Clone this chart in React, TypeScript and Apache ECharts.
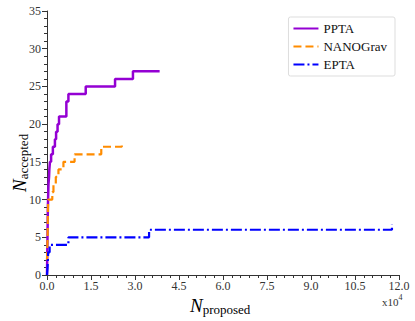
import React, { useEffect, useRef } from "react";
import * as echarts from "echarts";

// x values in units of 10^4 proposals
const pptaX = [0, 0.01, 0.02, 0.03, 0.05, 0.07, 0.08, 0.1, 0.14, 0.2, 0.27, 0.31, 0.36, 0.41, 0.66, 0.73, 1.32, 2.32, 2.93, 3.84];
const pptaY = [0, 3, 6, 9, 12, 13, 14, 15, 16, 17, 18, 19, 20, 21, 23, 24, 25, 26, 27, 27];

const nanoX = [0, 0.02, 0.03, 0.04, 0.18, 0.22, 0.3, 0.39, 0.56, 0.94, 1.85, 2.55, 2.55];
const nanoY = [2, 5, 8, 10, 11, 12, 13, 14, 15, 16, 17, 17, 17.7];

const eptaX = [0, 0.02, 0.03, 0.04, 0.09, 0.73, 3.48, 11.76, 11.76];
const eptaY = [0, 1, 2, 3, 4, 5, 6, 6, 6.7];

const xTicks = { min: 0, max: 12, interval: 1.5 };
const yTicks = { min: 0, max: 35, interval: 5 };

const SERIF = "Liberation Serif";

function zip(xs: number[], ys: number[]) {
  return xs.map((x, i) => [x, ys[i]]);
}

export default function App() {
  const ref = useRef<HTMLDivElement>(null);
  useEffect(() => {
    const chart = echarts.init(ref.current!, null, { renderer: "svg" });
    const axisCommon = {
      axisLine: { show: true, lineStyle: { color: "#333", width: 1 } },
      axisTick: { show: true, inside: false, length: 5, lineStyle: { color: "#333" } },
      minorTick: { show: true, splitNumber: 5, length: 3, lineStyle: { color: "#333" } },
      splitLine: { show: false },
      minorSplitLine: { show: false },
    };
    const labelStyle = { fontFamily: SERIF, fontSize: 12, color: "#333" };
    chart.setOption({
      animation: false,
      backgroundColor: "#fff",
      textStyle: { fontFamily: SERIF },
      grid: { left: 47, top: 11, right: 16, bottom: 46, containLabel: false },
      xAxis: {
        type: "value",
        ...xTicks,
        ...axisCommon,
        axisLabel: { ...labelStyle, margin: 5, formatter: (v: number) => v.toFixed(1) },
      },
      yAxis: {
        type: "value",
        ...yTicks,
        ...axisCommon,
        axisLabel: { ...labelStyle, margin: 6 },
      },
      legend: {
        orient: "vertical",
        right: 20,
        top: 17,
        itemWidth: 25,
        itemHeight: 10,
        itemGap: 5,
        padding: [5, 8, 5, 4],
        borderColor: "#ddd",
        borderWidth: 1,
        borderRadius: 2,
        itemStyle: { opacity: 0 },
        textStyle: { fontFamily: SERIF, fontSize: 13, color: "#111" },
        data: ["PPTA", "NANOGrav", "EPTA"],
      },
      series: [
        {
          name: "PPTA",
          type: "line",
          step: "end",
          symbol: "none",
          data: zip(pptaX, pptaY),
          lineStyle: { color: "#9400D3", width: 2.5 },
          itemStyle: { color: "#9400D3" },
        },
        {
          name: "NANOGrav",
          type: "line",
          step: "end",
          symbol: "none",
          data: zip(nanoX, nanoY),
          lineStyle: { color: "#FF8C00", width: 2.2, type: [8, 4] },
          itemStyle: { color: "#FF8C00" },
        },
        {
          name: "EPTA",
          type: "line",
          step: "end",
          symbol: "none",
          data: zip(eptaX, eptaY),
          lineStyle: { color: "#0000FF", width: 2.2, type: [11, 3, 2, 3] },
          itemStyle: { color: "#0000FF" },
        },
      ],
      graphic: [
        {
          type: "text",
          x: 8,
          y: 192,
          rotation: Math.PI / 2,
          style: {
            text: "{n|N}{s|accepted}",
            rich: {
              n: { fontFamily: SERIF, fontStyle: "italic", fontSize: 19, lineHeight: 22, fill: "#000" },
              s: { fontFamily: SERIF, fontSize: 13, lineHeight: 22, verticalAlign: "bottom", padding: [6, 0, 0, 0], fill: "#000" },
            },
          },
        },
        {
          type: "text",
          x: 190,
          y: 294,
          style: {
            text: "{n|N}{s|proposed}",
            rich: {
              n: { fontFamily: SERIF, fontStyle: "italic", fontSize: 19, lineHeight: 22, fill: "#000" },
              s: { fontFamily: SERIF, fontSize: 13, lineHeight: 22, verticalAlign: "bottom", padding: [6, 0, 0, 0], fill: "#000" },
            },
          },
        },
        {
          type: "text",
          x: 382,
          y: 293,
          style: {
            text: "{a|x10}{b|4}",
            rich: {
              a: { fontFamily: SERIF, fontSize: 11, fill: "#333", lineHeight: 14, verticalAlign: "bottom" },
              b: { fontFamily: SERIF, fontSize: 8, fill: "#333", lineHeight: 14, verticalAlign: "top" },
            },
          },
        },
      ],
    });
    return () => chart.dispose();
  }, []);
  return <div ref={ref} style={{ position: "fixed", left: 0, top: 0, width: 415, height: 321 }} />;
}
